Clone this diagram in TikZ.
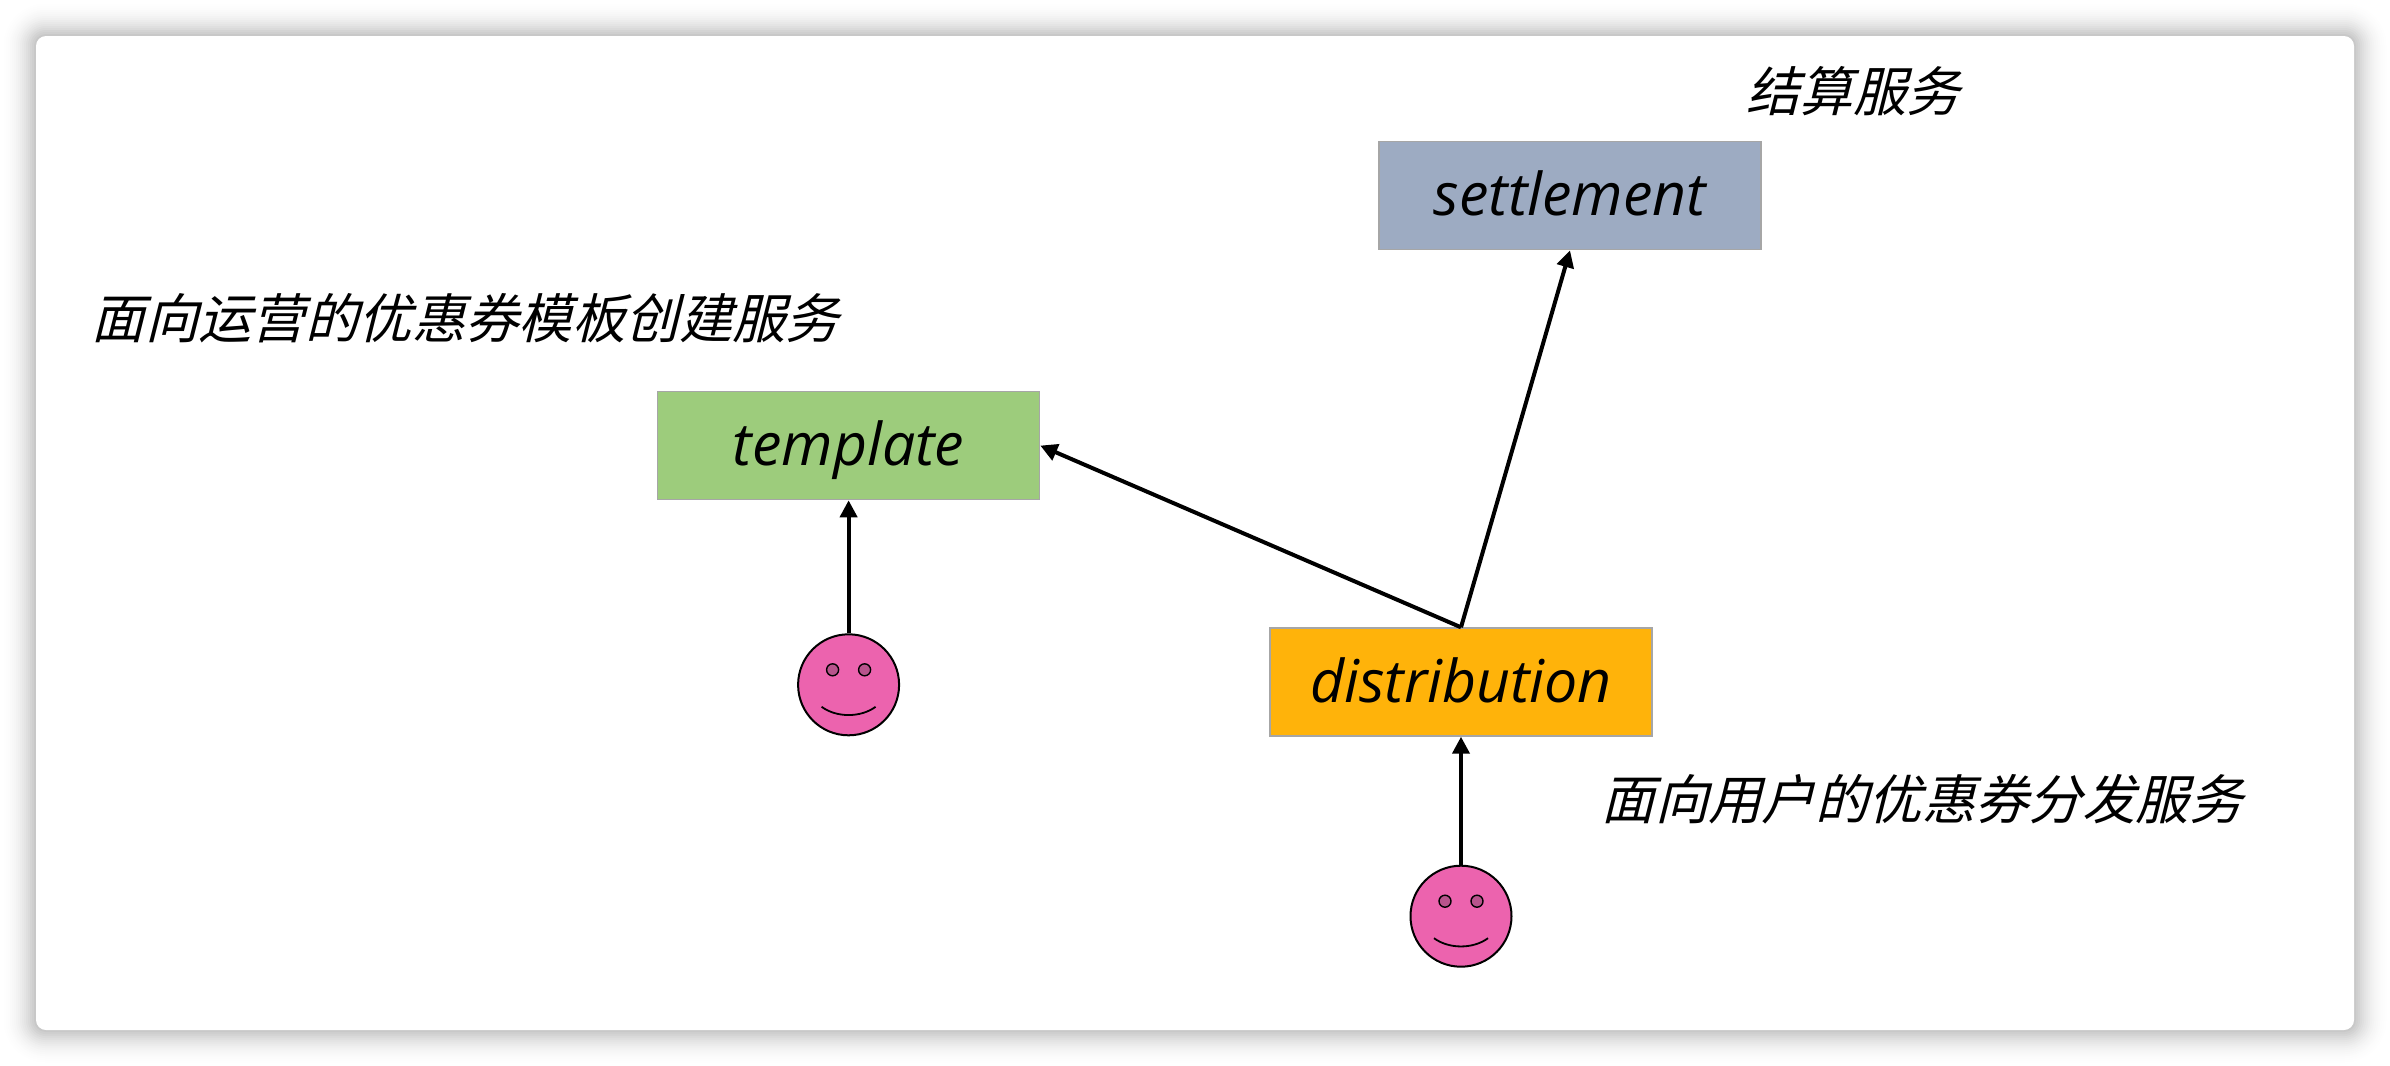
\documentclass[tikz,border=0pt]{standalone}
\usepackage{fontspec}
\setmainfont{Open Sans}
\newfontfamily\cjk[AutoFakeSlant=0.25]{Noto Sans CJK SC}
\usetikzlibrary{
	arrows.meta,
	positioning
}
\definecolor{boxgreen}{HTML}{9DCC7C}
\definecolor{boxslate}{HTML}{9DABC2}
\definecolor{boxorange}{HTML}{FFB30A}
\definecolor{facepink}{HTML}{EC63AE}
\definecolor{eyepink}{HTML}{B8548C}

\begin{document}
\begin{tikzpicture}[
		box/.style={draw=black!35, line width=0.7pt, minimum width=191pt, minimum height=54pt, inner sep=0pt, text height=20pt, text depth=0pt, font=\fontsize{29.5}{32}\selectfont\itshape},
		face/.style={draw=black, line width=1pt, circle, fill=facepink, minimum size=50.5pt, inner sep=0pt},
		caption/.style={inner sep=0pt, font=\fontsize{26.7}{30}\selectfont\cjk\itshape},
		arrow/.style={-{Triangle[length=8.5pt,width=8.5pt]}, line width=2pt}
		]
		
		\useasboundingbox (0,0) rectangle (1195pt,-533pt);
		
		% window shadow
		\foreach \i in {18,17,...,1}{
			\pgfmathsetmacro{\shade}{24*(1-\i/18)^2}
			\fill[black!\shade!white, rounded corners=5pt+\i pt] (18pt-\i pt,-18pt+\i pt) rectangle (1177pt+\i pt,-515pt-\i pt);
		}
		\fill[white, rounded corners=5pt] (18pt,-18pt) rectangle (1177pt,-515pt);
		
		\node[box, fill=boxorange] (distribution) at (730.5pt,-341pt) {distribution};
		
		\node[box, fill=boxgreen, above left=63.5pt and 114.5pt of distribution] (template) {template};
		
		\node[box, fill=boxslate, above=188.5pt of distribution, xshift=54.5pt] (settlement) {settlement};
		
		\node[face, below=64pt of distribution] (userface) {};
		
		\node[face, below=66.5pt of template] (opsface) {};
		
		\node[caption, above=12.5pt of settlement, xshift=141.5pt] (settlementtext) {结算服务};
		
		\node[caption, above=24pt of template, xshift=-191.5pt] (templatetext) {面向运营的优惠券模板创建服务};
		
		\node[caption, below=18.5pt of distribution, xshift=230.5pt] (distributiontext) {面向用户的优惠券分发服务};
		
		\foreach \f in {opsface,userface}{
			\begin{scope}[shift={(\f.center)}]
				\draw[line width=0.7pt, fill=eyepink] (-8pt,7.5pt) circle (3pt);
				\draw[line width=0.7pt, fill=eyepink] (8pt,7.5pt) circle (3pt);
				\draw[line width=0.9pt] (-13.5pt,-11pt) .. controls (-6pt,-16.5pt) and (6pt,-16.5pt) .. (13.5pt,-11pt);
			\end{scope}
		}
		
		\draw[arrow] (opsface) -- (template);
		\draw[arrow] (userface) -- (distribution);
		\draw[arrow] (distribution.north) -- (template.east);
		\draw[arrow] (distribution.north) -- (settlement.south);
		
	\end{tikzpicture}
\end{document}
